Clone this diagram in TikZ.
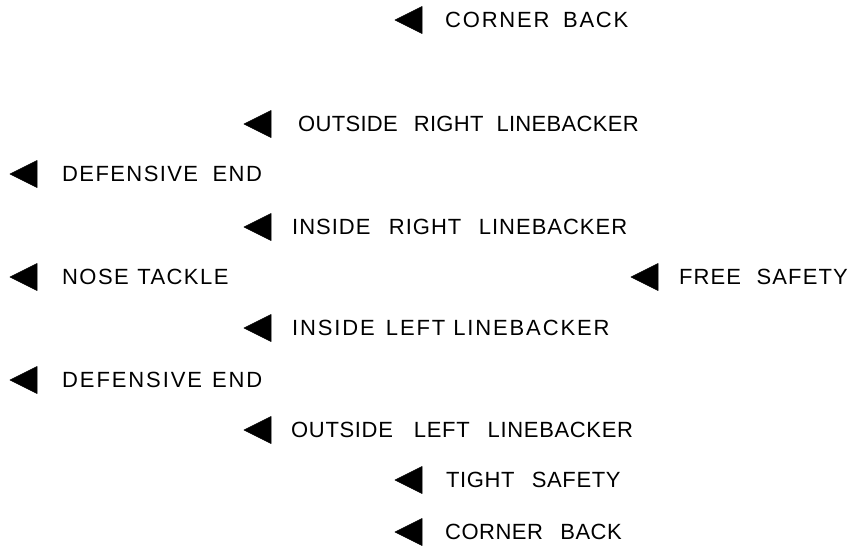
\documentclass[tikz,border=0pt]{standalone}
\usepackage{fontspec}
\setmainfont{Liberation Sans}
\usepackage{tikz}
\usetikzlibrary{calc}
\tikzset{
  pointer/.style={fill=black, draw=black, line width=0.6pt, line join=round},
  lab/.style={anchor=west, inner sep=0pt, font=\fontsize{22}{26}\selectfont},
}
% tracking of a label, and word gap
\newcommand{\trk}[1]{\addfontfeature{LetterSpace=#1}}
\newcommand{\wg}[1]{\hspace{#1pt}}
\newcommand{\tri}[2]{\fill[pointer] (#1,#2) -- ++(27,-13.5) -- ++(0,27) -- cycle;}

\begin{document}
\begin{tikzpicture}[x=1pt,y=-1pt]
  \useasboundingbox (0,0) rectangle (855,552);
  % offense side markers
  \tri{395}{20}
  \node[lab] (cbtop) at (445,20) {\trk{8.2}CORNER\wg{13.5}BACK};
  \tri{244}{124}
  \node[lab] (orlb) at (298,124) {\trk{1.4}OUTSIDE\wg{16}RIGHT\wg{13}LINEBACKER};
  \tri{10}{174}
  \node[lab] (detop) at (62,174) {\trk{6.4}DEFENSIVE\wg{14.5}END};
  \tri{244}{227}
  \node[lab] (irlb) at (292,227) {\trk{4.5}INSIDE\wg{18.5}RIGHT\wg{17.5}LINEBACKER};
  \tri{10}{277}
  \node[lab] (nt) at (62,277) {\trk{6.5}NOSE\wg{8.5}TACKLE};
  \tri{631}{277}
  \node[lab] (fs) at (679,277) {\trk{5}FREE\wg{15.5}SAFETY};
  \tri{244}{328}
  \node[lab] (illb) at (292,328) {\trk{8.5}INSIDE\wg{11}LEFT\wg{8}LINEBACKER};
  \tri{10}{380}
  \node[lab] (debot) at (62,380) {\trk{8.6}DEFENSIVE\wg{10}END};
  \tri{244}{430}
  \node[lab] (ollb) at (291,430) {\trk{3}OUTSIDE\wg{21}LEFT\wg{18}LINEBACKER};
  \tri{395}{480}
  \node[lab] (ts) at (446,480) {\trk{2.7}TIGHT\wg{17.4}SAFETY};
  \tri{395}{532}
  \node[lab] (cbbot) at (445,532) {\trk{2.3}CORNER\wg{17.3}BACK};
\end{tikzpicture}
\end{document}
